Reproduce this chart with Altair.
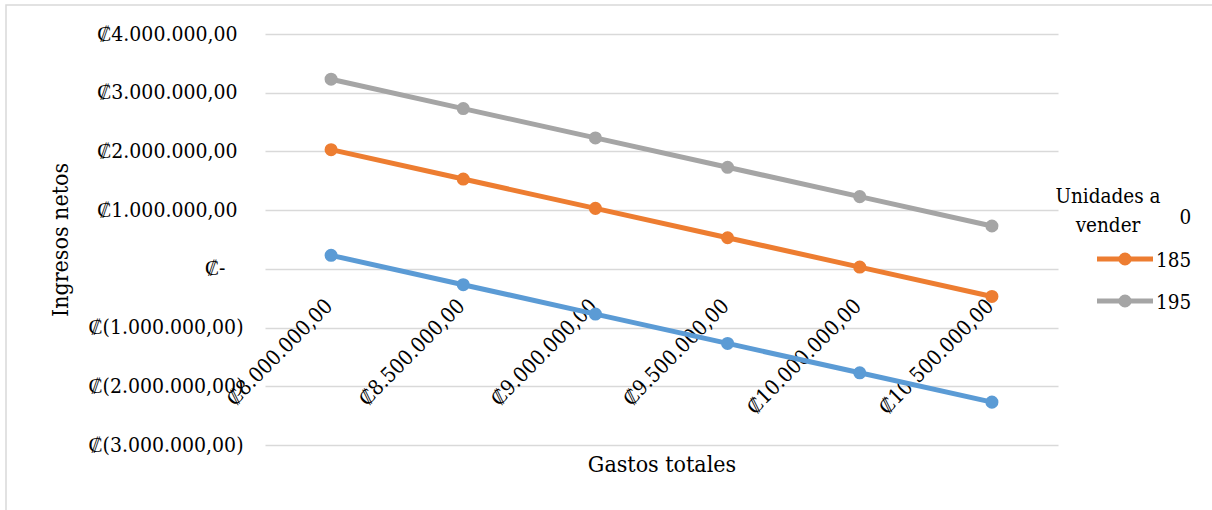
import altair as alt
import pandas as pd

# ---- data ----
gastos = [8000000, 8500000, 9000000, 9500000, 10000000, 10500000]
unidades = ["170", "185", "195"]
ingresos_170 = [230000, -270000, -770000, -1270000, -1770000, -2270000]
ingresos_185 = [2030000, 1530000, 1030000, 530000, 30000, -470000]
ingresos_195 = [3230000, 2730000, 2230000, 1730000, 1230000, 730000]
colores = ["#5B9BD5", "#ED7D31", "#A5A5A5"]
y_ticks = [-3000000, -2000000, -1000000, 0, 1000000, 2000000, 3000000, 4000000]

rows = []
for u, serie in zip(unidades, [ingresos_170, ingresos_185, ingresos_195]):
    for g, v in zip(gastos, serie):
        rows.append({"gastos": g, "unidades": u, "ingresos": v})
df = pd.DataFrame(rows)

FONT = "'DejaVu Serif Condensed', 'DejaVu Serif', serif"
TICK_FS = 21
TITLE_FS = 23
LEG_FS = 20.5
W, H = 793, 411
L, T = 265, 34
NB = "\u00a0"
ZW = "\u200b"  # keeps the trailing spaces from being trimmed

fmt = ("replace(replace(replace(format({v}, ',.2f'), regexp(',', 'g'), '#'), "
       "regexp('[.]', 'g'), ','), regexp('#', 'g'), '.')")
y_label = ("datum.value == 0 ? '₡-" + NB * 3 + ZW + "' : (datum.value < 0 ? '₡(' + "
           + fmt.format(v="-datum.value") + " + ')' : '₡' + "
           + fmt.format(v="datum.value") + " + '" + NB + ZW + "')")
x_label = "'₡' + " + fmt.format(v="datum.value")

zero_offset = H * 3 / 7  # distance from bottom of plot to the zero line

lines = alt.Chart(df).mark_line(
    strokeWidth=5,
    point=alt.OverlayMarkDef(filled=True, size=170, opacity=1),
).encode(
    x=alt.X("gastos:O", scale=alt.Scale(padding=0.5),
            axis=alt.Axis(
                title="Gastos totales", offset=-zero_offset, domain=False,
                ticks=False, tickSize=0, grid=False,
                labelAngle=315, labelAlign="right", labelBaseline="middle",
                labelPadding=34, labelOffset=-2, labelFontSize=TICK_FS, labelFont=FONT,
                labelColor="#000000", labelExpr=x_label, labelOverlap=False,
                labelBound=False, labelLimit=400,
                titleFont=FONT, titleFontSize=TITLE_FS, titleFontWeight="normal",
                titleColor="#000000", titleY=196, titleBaseline="middle")),
    y=alt.Y("ingresos:Q", scale=alt.Scale(domain=[-3000000, 4000000], nice=False),
            axis=alt.Axis(
                values=y_ticks, title="Ingresos netos", domain=False,
                ticks=False, tickSize=0, labelPadding=22, labelExpr=y_label,
                labelFontSize=TICK_FS, labelFont=FONT, labelColor="#000000",
                labelLimit=400,
                grid=True, gridColor="#d9d9d9", gridWidth=1.5,
                titleFont=FONT, titleFontSize=TITLE_FS, titleFontWeight="normal",
                titleColor="#000000", titleX=60 - L, titleY=H / 2,
                titleAngle=270, titleBaseline="middle", titleAlign="center")),
    color=alt.Color("unidades:N", scale=alt.Scale(domain=unidades, range=colores),
                    legend=None),
    order=alt.Order("gastos:Q"),
)

one = pd.DataFrame({"a": [0]})
border = alt.Chart(one).mark_rect(
    fillOpacity=0, stroke="#d9d9d9", strokeWidth=1.5
).encode(
    x=alt.value(6 - L), x2=alt.value(1212 - L + 20),
    y=alt.value(5 - T), y2=alt.value(510 - T + 20),
)

layers = [border, lines]
entry_centers = [216, 259, 301]
entry_baselines = [224, 267, 309]
for u, c, cy, by in zip(unidades, colores, entry_centers, entry_baselines):
    d = pd.DataFrame({"unidades": [u]})
    layers.append(alt.Chart(d).mark_rule(color=c, strokeWidth=5).encode(
        x=alt.value(1097 - L), x2=alt.value(1153 - L), y=alt.value(cy - T)))
    layers.append(alt.Chart(d).mark_point(filled=True, size=170, color=c, opacity=1).encode(
        x=alt.value(1125 - L), y=alt.value(cy - T)))
    layers.append(alt.Chart(d).mark_text(
        align="left", baseline="alphabetic", font=FONT, fontSize=LEG_FS, color="#000000"
    ).encode(x=alt.value(1156 - L), y=alt.value(by - T), text="unidades:N"))

cover = alt.Chart(one).mark_rect(fill="white").encode(
    x=alt.value(1062 - L), x2=alt.value(1179 - L),
    y=alt.value(200 - T), y2=alt.value(238 - T))
layers.append(cover)

titulo = ["Unidades a", "vender"]
for txt, by in zip(titulo, [203, 232]):
    d = pd.DataFrame({"t": [txt]})
    layers.append(alt.Chart(d).mark_text(
        align="center", baseline="alphabetic", font=FONT, fontSize=LEG_FS, color="#000000"
    ).encode(x=alt.value(1108 - L), y=alt.value(by - T), text="t:N"))

chart = alt.layer(*layers).properties(
    width=W, height=H,
    padding={"left": L, "top": T, "right": 1212 - L - W, "bottom": 510 - T - H},
    autosize=alt.AutoSizeParams(type="none"),
    background="white",
).configure_view(stroke=None)

chart.save("out.html", embed_options={"renderer": "svg", "actions": False})
